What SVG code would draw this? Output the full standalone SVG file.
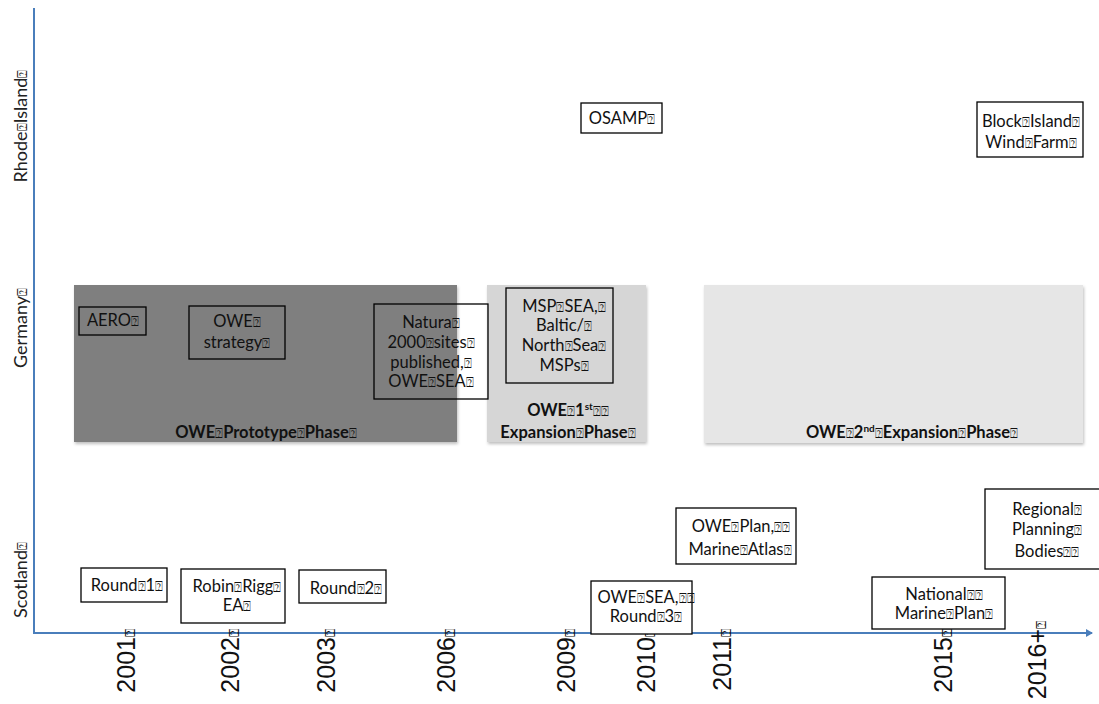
<svg xmlns="http://www.w3.org/2000/svg" width="1099" height="704" viewBox="0 0 1099 704">
<style>
.t{font-family:Lato,"Open Sans","DejaVu Sans",sans-serif;font-size:16.5px;fill:#111;text-anchor:middle}
.b{font-weight:bold}
.ax{font-family:Lato,"Open Sans","DejaVu Sans",sans-serif;font-size:18px;fill:#222;text-anchor:middle}
.yr{font-family:"Liberation Sans",Arial,sans-serif;font-size:25px;fill:#111;text-anchor:end}
.q{font-size:12.5px;font-weight:normal}
.yr .q{font-size:14px}
.ax .q{font-size:13px}
.box{fill:none;stroke:#000;stroke-width:1.3}
.wbox{fill:#fff;stroke:#000;stroke-width:1.3}
.axis{stroke:#4a7ebb;stroke-width:2;fill:none}
</style>
<defs>
<filter id="sh" x="-5%" y="-5%" width="110%" height="115%">
<feDropShadow dx="1" dy="2" stdDeviation="1.5" flood-color="#000" flood-opacity="0.25"/>
</filter>
<marker id="arr" markerWidth="8" markerHeight="8" refX="6" refY="4" orient="auto" markerUnits="userSpaceOnUse">
<path d="M0,0 L7,4 L0,8 Z" fill="#4a7ebb"/>
</marker>
</defs>
<rect width="1099" height="704" fill="#fff"/>

<g id="phases">
<rect id="phase-prototype" x="74" y="285" width="383" height="157" fill="#7f7f7f" filter="url(#sh)"/>
<rect id="phase-1st" x="487" y="285" width="159" height="157" fill="#d6d6d6" filter="url(#sh)"/>
<rect id="phase-2nd" x="704" y="285" width="379" height="158" fill="#e6e6e6" filter="url(#sh)"/>
<text class="t b" x="266" y="438">OWE<tspan class="q">⍰</tspan>Prototype<tspan class="q">⍰</tspan>Phase<tspan class="q">⍰</tspan></text>
<text class="t b" x="568" y="416">OWE<tspan class="q">⍰</tspan>1<tspan font-size="10" dy="-6">st</tspan><tspan class="q" dy="6">⍰⍰</tspan></text>
<text class="t b" x="568" y="438">Expansion<tspan class="q">⍰</tspan>Phase<tspan class="q">⍰</tspan></text>
<text class="t b" x="912" y="438">OWE<tspan class="q">⍰</tspan>2<tspan font-size="10" dy="-6">nd</tspan><tspan class="q" dy="6">⍰</tspan>Expansion<tspan class="q">⍰</tspan>Phase<tspan class="q">⍰</tspan></text>
</g>

<g id="axes">
<line class="axis" x1="34" y1="8" x2="34" y2="634"/>
<line class="axis" x1="33" y1="633" x2="1092" y2="633" marker-end="url(#arr)"/>
<text class="ax" transform="translate(27,126) rotate(-90)">Rhode<tspan class="q">⍰</tspan>Island<tspan class="q">⍰</tspan></text>
<text class="ax" transform="translate(27,328) rotate(-90)">Germany<tspan class="q">⍰</tspan></text>
<text class="ax" transform="translate(27,580) rotate(-90)">Scotland<tspan class="q">⍰</tspan></text>
<text class="yr" transform="translate(135,629) rotate(-90)">2001<tspan class="q">⍰</tspan></text>
<text class="yr" transform="translate(239,629) rotate(-90)">2002<tspan class="q">⍰</tspan></text>
<text class="yr" transform="translate(335,629) rotate(-90)">2003<tspan class="q">⍰</tspan></text>
<text class="yr" transform="translate(455,629) rotate(-90)">2006<tspan class="q">⍰</tspan></text>
<text class="yr" transform="translate(575,629) rotate(-90)">2009<tspan class="q">⍰</tspan></text>
<text class="yr" transform="translate(655,629) rotate(-90)">2010<tspan class="q">⍰</tspan></text>
<text class="yr" transform="translate(731,629) rotate(-90)">2011<tspan class="q">⍰</tspan></text>
<text class="yr" transform="translate(952,629) rotate(-90)">2015<tspan class="q">⍰</tspan></text>
<text class="yr" font-size="23" transform="translate(1046,621) rotate(-90)">2016+<tspan class="q">⍰</tspan></text>
</g>

<g id="n-aero">
<rect class="box" x="79" y="307" width="67" height="28"/>
<text class="t" x="113" y="326">AERO<tspan class="q">⍰</tspan></text>
</g>
<g id="n-owe-strategy">
<rect class="box" x="189" y="306" width="96" height="53"/>
<text class="t" x="237" y="327">OWE<tspan class="q">⍰</tspan></text>
<text class="t" x="237" y="348">strategy<tspan class="q">⍰</tspan></text>
</g>
<g id="n-natura">
<rect class="box" x="374" y="304" width="114" height="95"/>
<text class="t" x="431" y="328">Natura<tspan class="q">⍰</tspan></text>
<text class="t" x="431" y="348">2000<tspan class="q">⍰</tspan>sites<tspan class="q">⍰</tspan></text>
<text class="t" x="431" y="368">published,<tspan class="q">⍰</tspan></text>
<text class="t" x="431" y="387">OWE<tspan class="q">⍰</tspan>SEA<tspan class="q">⍰</tspan></text>
</g>
<g id="n-msp">
<rect class="box" x="506" y="288" width="107" height="95"/>
<text class="t" x="564" y="312">MSP<tspan class="q">⍰</tspan>SEA,<tspan class="q">⍰</tspan></text>
<text class="t" x="564" y="331">Baltic/<tspan class="q">⍰</tspan></text>
<text class="t" x="564" y="351">North<tspan class="q">⍰</tspan>Sea<tspan class="q">⍰</tspan></text>
<text class="t" x="564" y="371">MSPs<tspan class="q">⍰</tspan></text>
</g>
<g id="n-osamp">
<rect class="wbox" x="581" y="103" width="81" height="30"/>
<text class="t" x="622" y="124">OSAMP<tspan class="q">⍰</tspan></text>
</g>
<g id="n-block-island">
<rect class="wbox" x="977" y="102" width="106" height="55"/>
<text class="t" x="1031" y="127">Block<tspan class="q">⍰</tspan>Island<tspan class="q">⍰</tspan></text>
<text class="t" x="1031" y="148">Wind<tspan class="q">⍰</tspan>Farm<tspan class="q">⍰</tspan></text>
</g>
<g id="n-round1">
<rect class="wbox" x="81" y="568" width="86" height="34"/>
<text class="t" x="127" y="591">Round<tspan class="q">⍰</tspan>1<tspan class="q">⍰</tspan></text>
</g>
<g id="n-robin-rigg">
<rect class="wbox" x="181" y="569" width="104" height="54"/>
<text class="t" x="237" y="592">Robin<tspan class="q">⍰</tspan>Rigg<tspan class="q">⍰</tspan></text>
<text class="t" x="237" y="611">EA<tspan class="q">⍰</tspan></text>
</g>
<g id="n-round2">
<rect class="wbox" x="299" y="570" width="87" height="33"/>
<text class="t" x="346" y="594">Round<tspan class="q">⍰</tspan>2<tspan class="q">⍰</tspan></text>
</g>
<g id="n-owe-sea-round3">
<rect class="wbox" x="591" y="581" width="101" height="53"/>
<text class="t" x="646" y="603">OWE<tspan class="q">⍰</tspan>SEA,<tspan class="q">⍰⍰</tspan></text>
<text class="t" x="646" y="622">Round<tspan class="q">⍰</tspan>3<tspan class="q">⍰</tspan></text>
</g>
<g id="n-owe-plan">
<rect class="wbox" x="676" y="508" width="120" height="56"/>
<text class="t" x="741" y="532">OWE<tspan class="q">⍰</tspan>Plan,<tspan class="q">⍰⍰</tspan></text>
<text class="t" x="740" y="555">Marine<tspan class="q">⍰</tspan>Atlas<tspan class="q">⍰</tspan></text>
</g>
<g id="n-national">
<rect class="wbox" x="872" y="577" width="133" height="52"/>
<text class="t" x="944" y="600">National<tspan class="q">⍰⍰</tspan></text>
<text class="t" x="944" y="619">Marine<tspan class="q">⍰</tspan>Plan<tspan class="q">⍰</tspan></text>
</g>
<g id="n-regional">
<rect class="wbox" x="985" y="489" width="118" height="80"/>
<text class="t" x="1047" y="515">Regional<tspan class="q">⍰</tspan></text>
<text class="t" x="1047" y="535">Planning<tspan class="q">⍰</tspan></text>
<text class="t" x="1047" y="557">Bodies<tspan class="q">⍰⍰</tspan></text>
</g>
</svg>
